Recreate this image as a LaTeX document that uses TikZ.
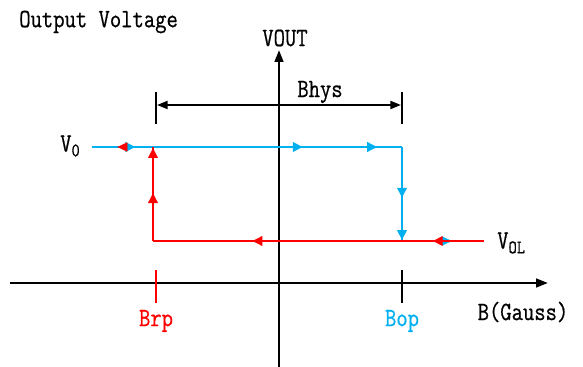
\documentclass[tikz,border=0pt]{standalone}
\usepackage{fontspec}
\usepackage{xcolor}
\usetikzlibrary{arrows.meta,decorations.markings}

\newfontfamily\lblfont{Latin Modern Mono}[FakeBold=0.7]

\definecolor{opblue}{RGB}{0,176,240}
\definecolor{rpred}{RGB}{255,0,0}

\newcommand{\tall}[1]{\scalebox{1}[1.2]{#1}}

\tikzset{
    lbl/.style={inner sep=0pt, font=\lblfont\fontsize{16.5}{16.5}\selectfont},
    axis/.style={line width=1.9pt, -{Triangle[length=9pt,width=6.5pt]}},
    loopline/.style={line width=2pt},
    tipat/.style={postaction={decorate, decoration={markings,
        mark=at position #1 with {\arrow{Triangle[length=7.5pt,width=7pt]}}}}},
}

\begin{document}
\begin{tikzpicture}[x=0.75pt, y=-0.75pt]

    \useasboundingbox (0,0) rectangle (583,367);

    % Define coordinates for the points
    \coordinate (L) at (10,283);
    \coordinate (R) at (548,283);
    \coordinate (Bot) at (279,367);
    \coordinate (Top) at (279,50);
    \coordinate (V0start) at (92,147);
    \coordinate (OP) at (402,147);
    \coordinate (OPlow) at (402,241);
    \coordinate (RPlow) at (153,241);
    \coordinate (RP) at (153,147);
    \coordinate (VOLend) at (484,241);

    % Axes
    \draw[axis] (L) -- (R);    % B axis
    \draw[axis] (Bot) -- (Top); % VOUT axis

    % Labels
    \node[lbl, anchor=west] (title) at (19,22) {\tall{Output Voltage}};
    \node[lbl] (vout) at (285,38) {\tall{VOUT}};
    \node[lbl] (gauss) at (523,312) {\tall{B(Gauss)}};
    \node[lbl] (vo) at (70,146) {\tall{V\raisebox{-3pt}{\fontsize{12}{12}\selectfont 0}}};
    \node[lbl, anchor=west] (vol) at (497,243) {\tall{V\raisebox{-3pt}{\fontsize{12}{12}\selectfont OL}}};

    % Hysteresis width
    \draw[line width=1.9pt] (156,92) -- (156,124);
    \draw[line width=1.9pt] (402,92) -- (402,124);
    \draw[line width=1.5pt, {Triangle[length=8pt,width=6pt]}-{Triangle[length=8pt,width=6pt]}] (157,105) -- (401,105);
    \node[lbl] (bhys) at (320,92) {\tall{Bhys}};

    % Operate / release points on the B axis
    \draw[line width=1.9pt, rpred] (156,270) -- (156,303);
    \draw[line width=1.9pt] (402,270) -- (402,303);
    \node[lbl, text=rpred] (brp) at (156,321) {\tall{Brp}};
    \node[lbl, text=opblue] (bop) at (402,321) {\tall{Bop}};

    % Rising B: output switches low at Bop
    \draw[loopline, opblue, tipat=0.14, tipat=0.68, tipat=0.92] (V0start) -- (OP);
    \draw[loopline, opblue, tipat=0.54, tipat=0.99] (OP) -- (OPlow);
    \path[opblue, tipat=0.99] (VOLend) ++(-60,0) -- (452,241);

    % Falling B: output switches high at Brp
    \draw[loopline, rpred, tipat=0.155, tipat=0.70] (VOLend) -- (RPlow);
    \draw[loopline, rpred, tipat=0.51, tipat=0.99] (RPlow) -- (RP);
    \path[rpred, tipat=0.99] (RP) -- (117,147);

\end{tikzpicture}
\end{document}
